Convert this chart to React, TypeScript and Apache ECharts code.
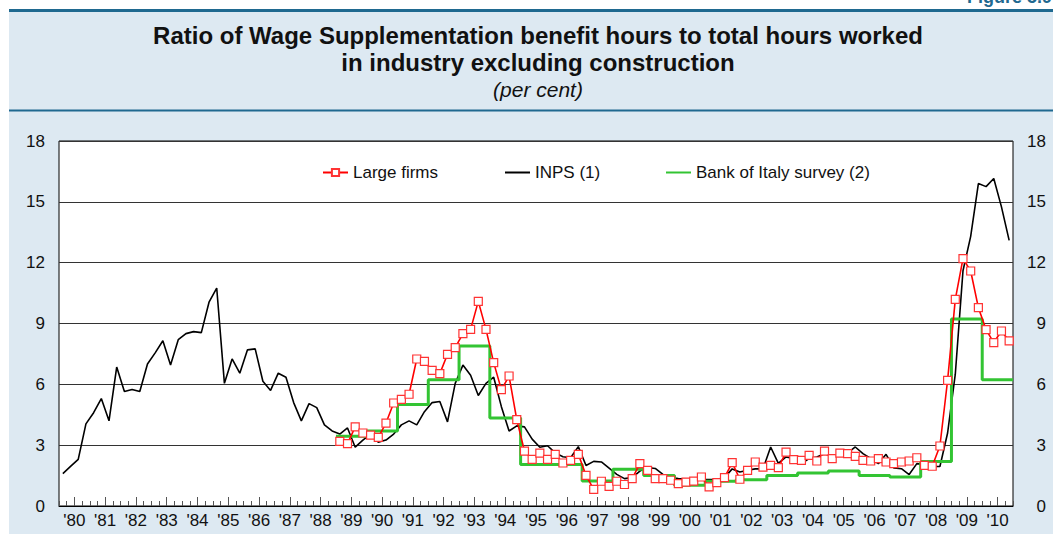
import React, { useEffect, useRef } from 'react';
import * as echarts from 'echarts';

// Year labels on the x axis (1980 .. 2010)
const YEAR_LABELS = [
  "'80", "'81", "'82", "'83", "'84", "'85", "'86", "'87", "'88", "'89",
  "'90", "'91", "'92", "'93", "'94", "'95", "'96", "'97", "'98", "'99",
  "'00", "'01", "'02", "'03", "'04", "'05", "'06", "'07", "'08", "'09", "'10",
];
const FIRST_YEAR = 1980;

// INPS (1): quarterly, 1980 Q1 .. 2010 Q4
const INPS = [
  1.6, 1.95, 2.3, 4.05, 4.6, 5.3, 4.2, 6.85, 5.65, 5.75, 5.65, 7.0,
  7.55, 8.15, 6.95, 8.2, 8.5, 8.6, 8.55, 10.05, 10.75, 6.05, 7.25, 6.55,
  7.7, 7.75, 6.15, 5.7, 6.55, 6.35, 5.1, 4.2, 5.05, 4.85, 4.0, 3.7,
  3.55, 3.85, 2.9, 3.25, 3.55, 3.15, 3.25, 3.55, 4.0, 4.2, 4.0, 4.65,
  5.1, 5.15, 4.15, 6.05, 6.95, 6.45, 5.45, 6.05, 6.35, 4.9, 3.7, 3.95,
  3.9, 3.3, 2.9, 2.97, 2.62, 2.43, 2.38, 2.93, 2.0, 2.2, 2.17, 1.87,
  1.56, 1.35, 1.4, 1.72, 1.9, 1.85, 1.56, 1.4, 1.35, 1.32, 1.3, 1.3,
  1.3, 1.3, 1.4, 1.83, 1.68, 1.76, 1.83, 1.83, 2.91, 2.1, 2.42, 2.34,
  2.09, 2.34, 2.42, 2.58, 2.45, 2.53, 2.61, 2.91, 2.58, 2.34, 2.09, 2.55,
  1.88, 1.84, 1.55, 2.09, 2.05, 1.95, 1.95, 3.6, 6.5, 11.6, 13.3, 15.9,
  15.75, 16.15, 14.75, 13.1,
];

// Large firms: quarterly, 1989 Q1 .. 2010 Q4
const LARGE_FIRMS_FIRST_YEAR = 1989;
const LARGE_FIRMS = [
  3.19, 3.08, 3.9, 3.6, 3.5, 3.38, 4.09, 5.08, 5.26, 5.51, 7.25, 7.13,
  6.69, 6.53, 7.48, 7.81, 8.5, 8.71, 10.09, 8.71, 7.07, 5.74, 6.41, 4.26,
  2.71, 2.3, 2.61, 2.3, 2.55, 2.12, 2.25, 2.55, 1.51, 0.82, 1.22, 0.97,
  1.22, 1.06, 1.35, 2.09, 1.76, 1.35, 1.35, 1.27, 1.1, 1.18, 1.23, 1.43,
  0.94, 1.15, 1.4, 2.14, 1.32, 1.76, 2.17, 1.92, 2.0, 1.89, 2.66, 2.29,
  2.25, 2.5, 2.22, 2.71, 2.34, 2.61, 2.58, 2.45, 2.25, 2.22, 2.34, 2.17,
  2.09, 2.17, 2.22, 2.38, 2.0, 1.96, 2.96, 6.2, 10.19, 12.2, 11.59, 9.78,
  8.7, 8.06, 8.63, 8.14,
];

// Bank of Italy survey (2): annual levels
const SURVEY_YEARS = [
  1989, 1990, 1991, 1992, 1993, 1994, 1995, 1996, 1997, 1998, 1999,
  2000, 2001, 2002, 2003, 2004, 2005, 2006, 2007, 2008, 2009, 2010,
];
const SURVEY = [
  3.44, 3.7, 5.01, 6.23, 7.89, 4.34, 2.05, 2.05, 1.23, 1.81, 1.51,
  1.02, 1.22, 1.3, 1.51, 1.63, 1.73, 1.51, 1.43, 2.2, 9.22, 6.23,
];

const Y_TICKS = [0, 3, 6, 9, 12, 15, 18];

const NAME_LARGE = 'Large firms';
const NAME_INPS = 'INPS (1)';
const NAME_SURVEY = 'Bank of Italy survey (2)';

const FONT = '"Liberation Sans", Arial, Helvetica, sans-serif';
const PANEL = '#dde9f2';
const RULE = '#1f6990';

export default function App() {
  const ref = useRef<HTMLDivElement>(null);

  useEffect(() => {
    if (!ref.current) return;
    const chart = echarts.init(ref.current, undefined, { renderer: 'svg' });

    const quarters = YEAR_LABELS.length * 4;
    const inpsData = INPS.map((v, i) => [i + 0.5, v]);
    const lfStart = (LARGE_FIRMS_FIRST_YEAR - FIRST_YEAR) * 4;
    const largeData = LARGE_FIRMS.map((v, k) => [lfStart + k + 0.5, v]);
    const surveyData = SURVEY.map((v, k) => [(SURVEY_YEARS[k] - FIRST_YEAR) * 4, v]);
    surveyData.push([quarters, SURVEY[SURVEY.length - 1]]);

    const legendCommon = {
      top: 164,
      padding: 0,
      itemWidth: 25,
      itemHeight: 9,
      itemGap: 0,
      textStyle: { fontSize: 17, color: '#111', fontFamily: FONT },
      selectedMode: false,
    };
    const hiddenDot = { color: 'rgba(0,0,0,0)', borderWidth: 0 };

    chart.setOption({
      animation: false,
      backgroundColor: PANEL,
      textStyle: { fontFamily: FONT },
      graphic: [
        { type: 'rect', shape: { x: 0, y: 0, width: 1053, height: 10 }, style: { fill: '#fff' }, silent: true },
        { type: 'rect', shape: { x: 0, y: 0, width: 9, height: 534 }, style: { fill: '#fff' }, silent: true },
        { type: 'line', shape: { x1: 9, y1: 10.5, x2: 1053, y2: 10.5 }, style: { stroke: RULE, lineWidth: 3 }, silent: true },
        { type: 'line', shape: { x1: 9, y1: 110.5, x2: 1053, y2: 110.5 }, style: { stroke: RULE, lineWidth: 2 }, silent: true },
        {
          type: 'text', x: 967, y: 6,
          style: { text: 'Figure 5.9', fill: RULE, font: `bold 18px ${FONT}`, textAlign: 'left', textVerticalAlign: 'bottom' },
          silent: true,
        },
        {
          type: 'text', x: 538, y: 35,
          style: {
            text: 'Ratio of Wage Supplementation benefit hours to total hours worked',
            fill: '#111', font: `bold 24px ${FONT}`, textAlign: 'center', textVerticalAlign: 'middle',
          },
          silent: true,
        },
        {
          type: 'text', x: 538, y: 62,
          style: {
            text: 'in industry excluding construction',
            fill: '#111', font: `bold 24px ${FONT}`, textAlign: 'center', textVerticalAlign: 'middle',
          },
          silent: true,
        },
        {
          type: 'text', x: 538, y: 89,
          style: {
            text: '(per cent)',
            fill: '#111', font: `italic 21px ${FONT}`, textAlign: 'center', textVerticalAlign: 'middle',
          },
          silent: true,
        },
      ],
      legend: [
        { ...legendCommon, left: 322, data: [NAME_LARGE] },
        { ...legendCommon, left: 504, data: [NAME_INPS], itemStyle: hiddenDot },
        { ...legendCommon, left: 665, data: [NAME_SURVEY], itemStyle: hiddenDot },
      ],
      grid: {
        left: 59, right: 40, top: 141, bottom: 28,
        show: true, backgroundColor: '#fff', borderColor: '#000', borderWidth: 1,
      },
      xAxis: [
        {
          type: 'value', min: 0, max: quarters, interval: 1, position: 'bottom',
          axisLine: { show: true, lineStyle: { color: '#000', width: 1 } },
          axisTick: { show: true, inside: true, length: 5, lineStyle: { color: '#555', width: 1 } },
          axisLabel: { show: false },
          splitLine: { show: false },
        },
        {
          type: 'category', data: YEAR_LABELS, position: 'bottom', boundaryGap: true,
          axisLine: { show: false },
          axisTick: { show: true, inside: true, alignWithLabel: true, interval: 0, length: 9, lineStyle: { color: '#555', width: 1 } },
          axisLabel: { interval: 0, fontSize: 17, color: '#111', margin: 6, fontFamily: FONT },
          splitLine: { show: false },
        },
      ],
      yAxis: [
        {
          type: 'value', min: Y_TICKS[0], max: Y_TICKS[Y_TICKS.length - 1], interval: 3, position: 'left',
          axisLine: { show: false }, axisTick: { show: false },
          axisLabel: { fontSize: 17, color: '#111', margin: 14, fontFamily: FONT },
          splitLine: { show: true, lineStyle: { color: '#333', width: 1 } },
        },
        {
          type: 'value', min: Y_TICKS[0], max: Y_TICKS[Y_TICKS.length - 1], interval: 3, position: 'right',
          axisLine: { show: false }, axisTick: { show: false },
          axisLabel: { fontSize: 17, color: '#111', margin: 33, align: 'right', fontFamily: FONT },
          splitLine: { show: false },
        },
      ],
      series: [
        {
          name: NAME_INPS, type: 'line', data: inpsData, xAxisIndex: 0, yAxisIndex: 0,
          symbol: 'none', lineStyle: { color: '#000', width: 1.6 }, itemStyle: { color: '#000' }, z: 2,
        },
        {
          name: NAME_SURVEY, type: 'line', step: 'end', data: surveyData, xAxisIndex: 0, yAxisIndex: 0,
          symbol: 'none', lineStyle: { color: '#33c433', width: 3 }, itemStyle: { color: '#33c433' }, z: 3,
        },
        {
          name: NAME_LARGE, type: 'line', data: largeData, xAxisIndex: 0, yAxisIndex: 0,
          symbol: 'rect', symbolSize: 8, showAllSymbol: true,
          lineStyle: { color: '#f00', width: 1.6 },
          itemStyle: { color: '#fff', borderColor: '#f33', borderWidth: 1.2 }, z: 4,
        },
      ],
    });

    return () => chart.dispose();
  }, []);

  return (
    <div
      ref={ref}
      style={{ position: 'fixed', left: 0, top: 0, width: 1053, height: 534 }}
    />
  );
}
